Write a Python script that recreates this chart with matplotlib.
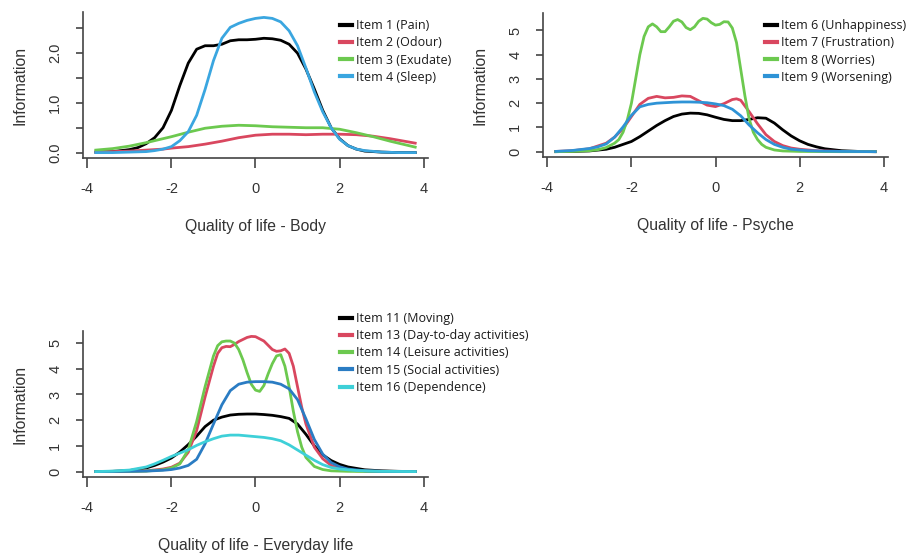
import numpy as np
import matplotlib
matplotlib.use("Agg")
import matplotlib.pyplot as plt

# ---- panel 1: Quality of life - Body
x_pain = [-3.8, -3.4, -3.0, -2.8, -2.6, -2.4, -2.2, -2.0, -1.8, -1.6, -1.4, -1.2, -1.0, -0.8, -0.6, -0.4, -0.2,
          0.0, 0.2, 0.4, 0.6, 0.8, 1.0, 1.2, 1.4, 1.6, 1.8, 2.0, 2.2, 2.4, 2.6, 3.0, 3.4, 3.8]
y_pain = [0.01, 0.02, 0.06, 0.10, 0.18, 0.30, 0.50, 0.85, 1.35, 1.80, 2.08, 2.15, 2.15, 2.18, 2.25, 2.27, 2.27,
          2.28, 2.30, 2.29, 2.26, 2.18, 2.00, 1.68, 1.28, 0.85, 0.50, 0.28, 0.14, 0.07, 0.03, 0.01, 0.0, 0.0]
x_odour = [-3.8, -3.4, -3.0, -2.6, -2.2, -2.0, -1.6, -1.2, -0.8, -0.4, 0.0, 0.4, 0.8, 1.2, 1.6, 2.0, 2.4,
           2.8, 3.2, 3.6, 3.8]
y_odour = [0.01, 0.02, 0.03, 0.05, 0.07, 0.09, 0.12, 0.17, 0.23, 0.30, 0.35, 0.37, 0.37, 0.36, 0.37, 0.37, 0.36,
           0.33, 0.28, 0.22, 0.19]
x_exudate = x_odour
y_exudate = [0.05, 0.08, 0.13, 0.20, 0.28, 0.32, 0.41, 0.49, 0.53, 0.55, 0.54, 0.52, 0.51, 0.50, 0.50, 0.47, 0.40,
             0.32, 0.23, 0.15, 0.11]
x_sleep = [-3.8, -3.4, -3.0, -2.6, -2.4, -2.2, -2.0, -1.8, -1.6, -1.4, -1.2, -1.0, -0.8, -0.6, -0.4, -0.2,
           0.0, 0.2, 0.4, 0.6, 0.8, 1.0, 1.2, 1.4, 1.6, 1.8, 2.0, 2.2, 2.4, 2.6, 3.0, 3.4, 3.8]
y_sleep = [0.0, 0.0, 0.01, 0.02, 0.04, 0.07, 0.12, 0.24, 0.42, 0.75, 1.27, 1.85, 2.30, 2.52, 2.60, 2.66,
           2.70, 2.72, 2.70, 2.63, 2.45, 2.15, 1.70, 1.22, 0.82, 0.50, 0.27, 0.14, 0.07, 0.04, 0.01, 0.0, 0.0]

# ---- panel 2: Quality of life - Psyche
x_unhappy = [-3.8, -3.4, -3.0, -2.6, -2.4, -2.2, -2.0, -1.8, -1.6, -1.4, -1.2, -1.0, -0.8, -0.6, -0.4, -0.2,
             0.0, 0.2, 0.4, 0.6, 0.8, 1.0, 1.2, 1.4, 1.6, 1.8, 2.0, 2.2, 2.4, 2.6, 3.0, 3.4, 3.8]
y_unhappy = [0.0, 0.01, 0.03, 0.10, 0.18, 0.30, 0.42, 0.62, 0.85, 1.08, 1.28, 1.45, 1.55, 1.59, 1.58, 1.52,
             1.42, 1.33, 1.28, 1.28, 1.33, 1.40, 1.38, 1.18, 0.90, 0.65, 0.45, 0.30, 0.20, 0.12, 0.04, 0.01, 0.0]
x_frustr = [-3.8, -3.4, -3.0, -2.6, -2.4, -2.2, -2.0, -1.8, -1.6, -1.4, -1.2, -1.0, -0.8, -0.6, -0.4, -0.2,
            0.0, 0.2, 0.4, 0.5, 0.6, 0.8, 1.0, 1.2, 1.4, 1.6, 1.8, 2.0, 2.4, 3.0, 3.8]
y_frustr = [0.01, 0.04, 0.12, 0.35, 0.60, 0.95, 1.45, 1.95, 2.20, 2.28, 2.22, 2.24, 2.30, 2.28, 2.10, 1.92,
            1.86, 1.98, 2.15, 2.18, 2.12, 1.65, 1.15, 0.70, 0.42, 0.25, 0.15, 0.10, 0.04, 0.01, 0.0]
x_worries = [-3.8, -3.4, -3.0, -2.8, -2.6, -2.4, -2.3, -2.2, -2.1, -2.0, -1.9, -1.8, -1.7, -1.6, -1.5, -1.4,
             -1.3, -1.2, -1.1, -1.0, -0.9, -0.8, -0.7, -0.6, -0.5, -0.4, -0.3, -0.2, -0.1, 0.0, 0.1, 0.2,
             0.3, 0.4, 0.5, 0.6, 0.7, 0.8, 0.9, 1.0, 1.1, 1.2, 1.4, 1.6, 2.0, 3.0, 3.8]
y_worries = [0.0, 0.01, 0.04, 0.08, 0.17, 0.35, 0.50, 0.80, 1.30, 2.00, 3.00, 4.00, 4.75, 5.15, 5.27, 5.15,
             4.95, 4.95, 5.15, 5.38, 5.45, 5.35, 5.12, 5.03, 5.15, 5.38, 5.50, 5.47, 5.32, 5.22, 5.25, 5.36,
             5.35, 5.10, 4.50, 3.40, 2.30, 1.35, 0.80, 0.50, 0.30, 0.18, 0.07, 0.03, 0.01, 0.0, 0.0]
x_worsen = [-3.8, -3.4, -3.0, -2.8, -2.6, -2.4, -2.2, -2.0, -1.8, -1.6, -1.4, -1.2, -1.0, -0.8, -0.6, -0.4,
            -0.2, 0.0, 0.2, 0.4, 0.6, 0.8, 1.0, 1.2, 1.4, 1.6, 1.8, 2.2, 2.6, 3.0, 3.8]
y_worsen = [0.01, 0.05, 0.13, 0.20, 0.32, 0.60, 1.02, 1.50, 1.85, 1.95, 2.00, 2.02, 2.04, 2.05, 2.05, 2.04,
            2.02, 1.97, 1.90, 1.75, 1.48, 1.10, 0.78, 0.50, 0.30, 0.18, 0.10, 0.04, 0.02, 0.01, 0.0]

# ---- panel 3: Quality of life - Everyday life
x_moving = [-3.8, -3.4, -3.0, -2.6, -2.4, -2.2, -2.0, -1.8, -1.6, -1.4, -1.2, -1.0, -0.8, -0.6, -0.4, -0.2,
            0.0, 0.2, 0.4, 0.6, 0.8, 1.0, 1.2, 1.4, 1.6, 1.8, 2.0, 2.2, 2.6, 3.0, 3.4, 3.8]
y_moving = [0.0, 0.01, 0.04, 0.14, 0.24, 0.37, 0.53, 0.76, 1.05, 1.38, 1.75, 2.00, 2.12, 2.20, 2.23, 2.24,
            2.24, 2.22, 2.19, 2.14, 2.07, 1.85, 1.45, 1.00, 0.65, 0.43, 0.28, 0.18, 0.07, 0.03, 0.01, 0.0]
x_daily = [-3.8, -3.0, -2.6, -2.2, -2.0, -1.8, -1.6, -1.4, -1.2, -1.0, -0.9, -0.8, -0.7, -0.6, -0.5, -0.4,
           -0.2, -0.1, 0.0, 0.2, 0.4, 0.5, 0.6, 0.7, 0.8, 0.9, 1.0, 1.1, 1.2, 1.4, 1.6, 1.8, 2.0, 2.4, 3.0, 3.8]
y_daily = [0.0, 0.01, 0.03, 0.10, 0.17, 0.33, 0.75, 1.60, 2.90, 4.10, 4.60, 4.82, 4.87, 4.86, 4.95, 5.06,
           5.22, 5.26, 5.25, 5.08, 4.75, 4.68, 4.70, 4.77, 4.60, 4.10, 3.30, 2.50, 1.85, 0.95, 0.50, 0.24,
           0.12, 0.03, 0.01, 0.0]
x_leisure = [-3.8, -3.0, -2.6, -2.2, -2.0, -1.8, -1.6, -1.4, -1.2, -1.0, -0.9, -0.8, -0.7, -0.6, -0.5, -0.4,
             -0.3, -0.2, -0.1, 0.0, 0.1, 0.2, 0.3, 0.4, 0.5, 0.6, 0.7, 0.8, 0.9, 1.0, 1.1, 1.2, 1.4, 1.6,
             1.8, 2.2, 3.0, 3.8]
y_leisure = [0.0, 0.01, 0.02, 0.07, 0.14, 0.30, 0.85, 1.95, 3.30, 4.50, 4.90, 5.05, 5.08, 5.08, 5.00, 4.75,
             4.35, 3.85, 3.40, 3.17, 3.12, 3.35, 3.80, 4.20, 4.50, 4.55, 4.10, 3.30, 2.35, 1.55, 0.95, 0.55,
             0.20, 0.08, 0.03, 0.01, 0.0, 0.0]
x_social = [-3.8, -3.0, -2.6, -2.2, -2.0, -1.8, -1.6, -1.4, -1.2, -1.0, -0.8, -0.6, -0.4, -0.2, 0.0, 0.2,
            0.4, 0.6, 0.8, 1.0, 1.2, 1.4, 1.6, 1.8, 2.0, 2.2, 2.6, 3.0, 3.8]
y_social = [0.0, 0.01, 0.02, 0.05, 0.08, 0.14, 0.24, 0.48, 1.08, 1.85, 2.60, 3.15, 3.40, 3.48, 3.50, 3.50,
            3.48, 3.40, 3.22, 2.80, 2.05, 1.25, 0.68, 0.35, 0.19, 0.10, 0.03, 0.01, 0.0]
x_depend = [-3.8, -3.4, -3.0, -2.6, -2.4, -2.2, -2.0, -1.8, -1.6, -1.4, -1.2, -1.0, -0.8, -0.6, -0.4, -0.2,
            0.0, 0.2, 0.4, 0.6, 0.8, 1.0, 1.2, 1.4, 1.6, 1.8, 2.0, 2.4, 3.0, 3.8]
y_depend = [0.0, 0.02, 0.06, 0.18, 0.30, 0.44, 0.59, 0.72, 0.85, 1.02, 1.16, 1.28, 1.38, 1.42, 1.42, 1.39,
            1.36, 1.33, 1.28, 1.20, 1.04, 0.84, 0.64, 0.44, 0.27, 0.16, 0.10, 0.04, 0.01, 0.0]

BLACK = "#000000"
RED = "#d9475f"
GREEN = "#6cc94f"
BLUE = "#2e93d6"
LIGHTBLUE = "#3aa6e0"
DARKBLUE = "#2a7cc3"
CYAN = "#3ed0d8"

AXCOL = "#444444"
TXTCOL = "#333333"
plt.rcParams['font.family'] = ['Liberation Sans', 'DejaVu Sans']

fig = plt.figure(figsize=(9.09, 5.56), dpi=100)
W, H = 909.0, 556.0


def make_axes(left, top, right, bottom):
    return fig.add_axes([left / W, 1 - bottom / H, (right - left) / W, (bottom - top) / H])


def style(ax, xlabel, yticks, yticklabels, ymax):
    pad = 0.04 * 7.6
    ax.set_xlim(-3.8 - pad, 3.8 + pad)
    ax.set_ylim(-0.04 * ymax, ymax * 1.04)
    for s in ["top", "right"]:
        ax.spines[s].set_visible(False)
    for s in ["left", "bottom"]:
        ax.spines[s].set_color(AXCOL)
        ax.spines[s].set_linewidth(1.2)
    ax.set_xticks([-4, -2, 0, 2, 4])
    ax.set_xticklabels(["-4", "-2", "0", "2", "4"])
    ax.set_yticks(yticks)
    ax.set_yticklabels(yticklabels, rotation=90, va="center")
    ax.tick_params(axis="x", length=7, width=1.2, color=AXCOL, labelcolor=TXTCOL, labelsize=10.5, pad=10)
    ax.tick_params(axis="y", length=5, width=1.2, color=AXCOL, labelcolor=TXTCOL, labelsize=10.5, pad=10)
    ax.set_xlabel(xlabel, fontsize=11.3, color=TXTCOL, labelpad=17)
    ax.set_ylabel("Information", fontsize=11.3, color=TXTCOL, labelpad=15)


def add_legend(ax, x, top):
    leg = ax.legend(loc="upper left", bbox_to_anchor=(x / W, 1 - top / H), bbox_transform=fig.transFigure,
                    frameon=False, handlelength=0.95, handletextpad=0.35, labelspacing=0.34,
                    borderpad=0, borderaxespad=0, prop={"family": ["Open Sans", "DejaVu Sans"], "size": 9})
    for t in leg.get_texts():
        t.set_color("#1a1a1a")
    for h in leg.get_lines():
        h.set_linewidth(3)
    return leg


LW = 2.0

# panel 1
ax1 = make_axes(83, 12, 428, 158)
ax1.plot(x_pain, y_pain, color=BLACK, lw=LW, label="Item 1 (Pain)")
ax1.plot(x_odour, y_odour, color=RED, lw=LW, label="Item 2 (Odour)")
ax1.plot(x_exudate, y_exudate, color=GREEN, lw=LW, label="Item 3 (Exudate)")
ax1.plot(x_sleep, y_sleep, color=LIGHTBLUE, lw=LW, label="Item 4 (Sleep)")
style(ax1, "Quality of life - Body", [0, 0.5, 1.0, 1.5, 2.0, 2.5], ["0.0", "", "1.0", "", "2.0", ""],
      max(y_pain + y_odour + y_exudate + y_sleep))
add_legend(ax1, 340, 19)

# panel 2
ax2 = make_axes(543, 13, 888, 157)
ax2.plot(x_unhappy, y_unhappy, color=BLACK, lw=LW, label="Item 6 (Unhappiness)")
ax2.plot(x_frustr, y_frustr, color=RED, lw=LW, label="Item 7 (Frustration)")
ax2.plot(x_worries, y_worries, color=GREEN, lw=LW, label="Item 8 (Worries)")
ax2.plot(x_worsen, y_worsen, color=BLUE, lw=LW, label="Item 9 (Worsening)")
style(ax2, "Quality of life - Psyche", [0, 1, 2, 3, 4, 5], ["0", "1", "2", "3", "4", "5"],
      max(y_unhappy + y_frustr + y_worries + y_worsen))
add_legend(ax2, 765, 19)

# panel 3
ax3 = make_axes(83, 331, 428, 477)
ax3.plot(x_moving, y_moving, color=BLACK, lw=LW, label="Item 11 (Moving)")
ax3.plot(x_daily, y_daily, color=RED, lw=LW, label="Item 13 (Day-to-day activities)")
ax3.plot(x_leisure, y_leisure, color=GREEN, lw=LW, label="Item 14 (Leisure activities)")
ax3.plot(x_social, y_social, color=DARKBLUE, lw=LW, label="Item 15 (Social activities)")
ax3.plot(x_depend, y_depend, color=CYAN, lw=LW, label="Item 16 (Dependence)")
style(ax3, "Quality of life - Everyday life", [0, 1, 2, 3, 4, 5], ["0", "1", "2", "3", "4", "5"],
      max(y_moving + y_daily + y_leisure + y_social + y_depend))
add_legend(ax3, 340, 312)

fig.savefig("out.png", dpi=100)
